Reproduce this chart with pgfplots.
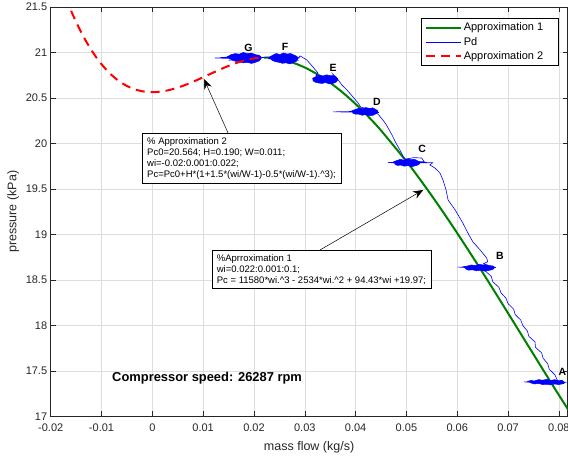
\documentclass[border=0pt]{standalone}
\usepackage{fontspec}
\setmainfont{Liberation Sans}
\usepackage{pgfplots}
\pgfplotsset{compat=1.18}
\usetikzlibrary{arrows.meta}

\definecolor{mgreen}{rgb}{0,0.5,0}
\definecolor{axgray}{gray}{0.15}
\definecolor{gridgray}{gray}{0.87}

\begin{document}
\begin{tikzpicture}
\begin{axis}[
  scale only axis,
  width=516.8pt, height=409.5pt,
  xmin=-0.02, xmax=0.0817, ymin=17, ymax=21.5,
  scaled x ticks=false, scaled y ticks=false,
  xtick={-0.02,-0.01,0,0.01,0.02,0.03,0.04,0.05,0.06,0.07,0.08},
  xticklabels={-0.02,-0.01,0,0.01,0.02,0.03,0.04,0.05,0.06,0.07,0.08},
  ytick={17,17.5,18,18.5,19,19.5,20,20.5,21,21.5},
  yticklabels={17,17.5,18,18.5,19,19.5,20,20.5,21,21.5},
  grid=major,
  major grid style={gridgray, line width=0.5pt},
  axis line style={axgray, line width=0.5pt},
  tick style={axgray, line width=0.5pt},
  major tick length=5pt,
  ticklabel style={font=\fontsize{11}{13}\selectfont, text=axgray},
  xticklabel style={yshift=-4pt},
  xlabel={mass flow (kg/s)},
  ylabel={pressure (kPa)},
  label style={font=\fontsize{12.5}{14}\selectfont, text=axgray},
  xlabel style={yshift=-3pt},
  legend style={at={(0.9826,0.973)}, anchor=north east, draw=black,
    line width=0.5pt, font=\fontsize{11}{13}\selectfont,
    inner xsep=4pt, inner ysep=2.5pt, row sep=0.8pt},
  legend cell align=left,
  legend image code/.code={\draw[#1] (0pt,0pt) -- (35pt,0pt);},
]
\coordinate (bl) at (rel axis cs:0,0);
\coordinate (tr) at (rel axis cs:1,1);

% Approximation 1: cubic fit, wi = 0.022 ... 0.1
\addplot[mgreen, line width=2pt, smooth] coordinates {
 (0.022,20.9443) (0.0235,20.9400) (0.025,20.9279) (0.0275,20.8913)
 (0.030,20.8350) (0.0325,20.7600) (0.035,20.6674) (0.0375,20.5584)
 (0.040,20.4339) (0.0425,20.2952) (0.045,20.1432) (0.050,19.8040)
 (0.0525,19.6189) (0.055,19.4249) (0.0575,19.2232) (0.060,19.0147)
 (0.0625,18.8006) (0.065,18.5820) (0.0675,18.3599) (0.070,18.1354)
 (0.0725,17.9097) (0.075,17.6838) (0.0775,17.4588) (0.080,17.2358)
 (0.085,16.8000)};
\addlegendentry{Approximation 1\hspace*{9pt}}

% Pd: measured discharge pressure, operating points A to G
\addplot[blue, line width=0.6pt] coordinates {
 (0.0790,17.375) (0.0758,17.382) (0.0812,17.368) (0.0745,17.378) (0.0805,17.385)
 (0.0765,17.365) (0.0815,17.376) (0.0731,17.380) (0.0800,17.371) (0.0770,17.388)
 (0.0810,17.362) (0.0752,17.374) (0.0798,17.383) (0.0762,17.369) (0.0808,17.378)
 (0.0780,17.372) (0.0795,17.390) (0.0775,17.366) (0.0793,17.380)
 (0.0797,17.40) (0.0792,17.46) (0.0781,17.52) (0.0778,17.58) (0.0769,17.64)
 (0.0766,17.70) (0.0754,17.76) (0.0753,17.82) (0.0741,17.88) (0.0738,17.94)
 (0.0729,18.00) (0.0725,18.06) (0.0714,18.12) (0.0711,18.18) (0.0700,18.24)
 (0.0696,18.30) (0.0686,18.36) (0.0682,18.42) (0.0670,18.48) (0.0667,18.54)
 (0.0655,18.60)
 (0.0660,18.625) (0.0630,18.640) (0.0672,18.632) (0.0610,18.645) (0.0665,18.650)
 (0.0620,18.628) (0.0676,18.638) (0.0601,18.642) (0.0662,18.622) (0.0635,18.655)
 (0.0670,18.645) (0.0628,18.630) (0.0658,18.660) (0.0640,18.635) (0.0668,18.640)
 (0.0645,18.625) (0.0660,18.650) (0.0652,18.680) (0.0660,18.700)
 (0.0658,18.742) (0.0645,18.830) (0.0631,18.918) (0.0623,18.995) (0.0611,19.126)
 (0.0596,19.269) (0.0582,19.379) (0.0578,19.489) (0.0572,19.599) (0.0566,19.676)
 (0.0556,19.731) (0.0546,19.764)
 (0.0552,19.790) (0.0490,19.782) (0.0540,19.795) (0.0470,19.788) (0.0520,19.778)
 (0.0464,19.792) (0.0515,19.800) (0.0480,19.775) (0.0530,19.790) (0.0485,19.805)
 (0.0510,19.780) (0.0495,19.815) (0.0505,19.790) (0.0500,19.830) (0.0515,19.845)
 (0.0530,19.840) (0.0535,19.800) (0.0505,19.800) (0.0495,19.840)
 (0.0490,19.90) (0.0484,19.96) (0.0478,20.02) (0.0472,20.09) (0.0466,20.15)
 (0.0460,20.21) (0.0452,20.27) (0.0446,20.31)
 (0.0440,20.345) (0.0400,20.355) (0.0446,20.340) (0.0356,20.348) (0.0430,20.352)
 (0.0395,20.335) (0.0444,20.360) (0.0380,20.350) (0.0435,20.330) (0.0405,20.365)
 (0.0440,20.350) (0.0410,20.340) (0.0425,20.375) (0.0400,20.360) (0.0420,20.385)
 (0.0410,20.400)
 (0.0405,20.445) (0.0395,20.511) (0.0383,20.588) (0.0373,20.643) (0.0363,20.720)
 (0.0355,20.764)
 (0.0360,20.715) (0.0325,20.700) (0.0365,20.690) (0.0318,20.710) (0.0355,20.680)
 (0.0330,20.725) (0.0362,20.705) (0.0316,20.695) (0.0350,20.735) (0.0335,20.685)
 (0.0358,20.700) (0.0328,20.715) (0.0345,20.740) (0.0322,20.745)
 (0.0326,20.775) (0.0316,20.841) (0.0304,20.918) (0.0291,20.962)
 (0.0285,20.930) (0.0245,20.920) (0.0290,20.940) (0.0230,20.935) (0.0280,20.905)
 (0.0250,20.945) (0.0288,20.915) (0.0227,20.930) (0.0275,20.950) (0.0240,20.910)
 (0.0282,20.925) (0.0255,20.960) (0.0270,20.900) (0.0235,20.940) (0.0265,20.975)
 (0.0250,20.925) (0.0240,20.955)
 (0.0218,20.945) (0.0160,20.935) (0.0210,20.955) (0.0123,20.940) (0.0200,20.925)
 (0.0145,20.950) (0.0215,20.938) (0.0150,20.915) (0.0195,20.965) (0.0135,20.945)
 (0.0205,20.930) (0.0165,20.970) (0.0190,20.905) (0.0155,20.940) (0.0185,20.975)
 (0.0170,20.920) (0.0180,20.950)};
\addlegendentry{Pd}

% dense cores of the Pd clusters at each operating point
\pgfplotsset{core/.style={blue, fill=blue, line width=0.5pt, forget plot}}
\addplot[core] coordinates { % A
 (0.0737,17.384) (0.0745,17.396) (0.0752,17.390) (0.0760,17.405) (0.0768,17.399)
 (0.0776,17.408) (0.0784,17.396) (0.0792,17.405) (0.0800,17.393) (0.0806,17.399)
 (0.0810,17.381) (0.0808,17.360) (0.0800,17.351) (0.0792,17.357) (0.0784,17.348)
 (0.0776,17.354) (0.0768,17.351) (0.0760,17.363) (0.0752,17.357) (0.0745,17.369)};
\addplot[core] coordinates { % B
 (0.0612,18.643) (0.0620,18.654) (0.0628,18.665) (0.0636,18.658) (0.0643,18.673)
 (0.0650,18.665) (0.0657,18.669) (0.0664,18.658) (0.0670,18.654) (0.0674,18.639)
 (0.0670,18.616) (0.0662,18.605) (0.0654,18.597) (0.0646,18.608) (0.0638,18.601)
 (0.0630,18.612) (0.0622,18.608) (0.0616,18.624)};
\addplot[core] coordinates { % C
 (0.0474,19.796) (0.0481,19.813) (0.0488,19.826) (0.0495,19.817) (0.0502,19.830)
 (0.0509,19.822) (0.0516,19.826) (0.0522,19.809) (0.0528,19.792)
 (0.0524,19.767) (0.0517,19.754) (0.0510,19.746) (0.0503,19.759) (0.0496,19.750)
 (0.0489,19.763) (0.0482,19.759) (0.0477,19.775)};
\addplot[core] coordinates { % D
 (0.0392,20.359) (0.0399,20.373) (0.0406,20.386) (0.0413,20.382) (0.0420,20.395)
 (0.0427,20.386) (0.0434,20.391) (0.0440,20.373) (0.0444,20.355)
 (0.0441,20.328) (0.0434,20.310) (0.0427,20.305) (0.0420,20.319) (0.0413,20.310)
 (0.0406,20.323) (0.0399,20.323) (0.0394,20.337)};
\addplot[core] coordinates { % E
 (0.0315,20.715) (0.0322,20.735) (0.0329,20.750) (0.0336,20.740) (0.0343,20.755)
 (0.0350,20.745) (0.0357,20.745) (0.0362,20.730) (0.0365,20.710)
 (0.0362,20.675) (0.0355,20.660) (0.0348,20.655) (0.0341,20.670) (0.0334,20.660)
 (0.0327,20.665) (0.0320,20.675) (0.0316,20.690)};
\addplot[core] coordinates { % F
 (0.0230,20.947) (0.0237,20.971) (0.0244,20.989) (0.0251,20.977) (0.0258,20.995)
 (0.0265,20.983) (0.0272,20.989) (0.0279,20.971) (0.0284,20.959) (0.0287,20.941)
 (0.0284,20.905) (0.0277,20.887) (0.0270,20.875) (0.0263,20.887) (0.0256,20.881)
 (0.0249,20.893) (0.0242,20.899) (0.0235,20.917)};
\addplot[core] coordinates { % G
 (0.0147,20.952) (0.0155,20.976) (0.0163,20.988) (0.0171,20.982) (0.0179,21.000)
 (0.0187,20.988) (0.0195,20.994) (0.0203,20.976) (0.0210,20.970) (0.0215,20.946)
 (0.0211,20.910) (0.0203,20.892) (0.0195,20.880) (0.0187,20.892) (0.0179,20.886)
 (0.0171,20.898) (0.0163,20.904) (0.0155,20.922)};

% Approximation 2: surge-side cubic, wi = -0.02 ... 0.022
\addplot[red, line width=2pt, dash pattern=on 9pt off 6pt] coordinates {
 (-0.020,22.0772) (-0.019,21.9039) (-0.018,21.7434) (-0.017,21.5954)
 (-0.016,21.4593) (-0.015,21.3348) (-0.014,21.2215) (-0.013,21.1189)
 (-0.012,21.0265) (-0.011,20.9440) (-0.010,20.8709) (-0.009,20.8068)
 (-0.008,20.7513) (-0.007,20.7039) (-0.006,20.6642) (-0.005,20.6318)
 (-0.004,20.6063) (-0.003,20.5871) (-0.002,20.5740) (-0.001,20.5664)
 (0.000,20.5640) (0.001,20.5663) (0.002,20.5729) (0.003,20.5833)
 (0.004,20.5971) (0.005,20.6140) (0.006,20.6334) (0.007,20.6549)
 (0.008,20.6782) (0.009,20.7028) (0.010,20.7282) (0.011,20.7540)
 (0.012,20.7798) (0.013,20.8052) (0.014,20.8298) (0.015,20.8531)
 (0.016,20.8746) (0.017,20.8940) (0.018,20.9109) (0.019,20.9247)
 (0.020,20.9352) (0.021,20.9417) (0.022,20.9440)};
\addlegendentry{Approximation 2}

% operating point labels
\begin{scope}[every node/.style={font=\bfseries\fontsize{10.5}{12}\selectfont}]
\node at (axis cs:0.0189,21.05) {G};
\node at (axis cs:0.0261,21.06) {F};
\node at (axis cs:0.0356,20.83) {E};
\node at (axis cs:0.0442,20.456) {D};
\node at (axis cs:0.0531,19.94) {C};
\node at (axis cs:0.0684,18.76) {B};
\node at (axis cs:0.0807,17.49) {A};
\end{scope}

% annotation boxes with arrows
\draw[black, line width=0.5pt, -{Stealth[length=10pt, width=8pt]}]
  (axis cs:0.0149,20.115) -- (axis cs:0.01016,20.709);
\node[draw=black, line width=0.5pt, fill=white, anchor=north west, align=left,
  inner xsep=5pt, inner ysep=4pt, font=\fontsize{9.5}{11.2}\selectfont]
  at (axis cs:-0.00204,20.115)
  {\% Approximation 2\\
   Pc0=20.564; H=0.190; W=0.011;\\
   wi=-0.02:0.001:0.022;\\
   Pc=Pc0+H*(1+1.5*(wi/W-1)-0.5*(wi/W-1).\textasciicircum3);};

\draw[black, line width=0.5pt, -{Stealth[length=10pt, width=8pt]}]
  (axis cs:0.0330,18.830) -- (axis cs:0.0533,19.489);
\node[draw=black, line width=0.5pt, fill=white, anchor=north west, align=left,
  inner xsep=5pt, inner ysep=4pt, font=\fontsize{9.5}{11.2}\selectfont]
  at (axis cs:0.01167,18.830)
  {\%Aprroximation 1\\
   wi=0.022:0.001:0.1;\\
   Pc = 11580*wi.\textasciicircum3 - 2534*wi.\textasciicircum2 + 94.43*wi +19.97;};

\node[anchor=west, font=\bfseries\fontsize{12.9}{15}\selectfont]
  at (axis cs:-0.00859,17.423) {Compressor speed: 26287 rpm};
\end{axis}
\path (bl) ++(-50.7pt,-40.5pt) coordinate (p1);
\path (tr) ++(0.5pt,7pt) coordinate (p2);
\pgfresetboundingbox
\path (p1) rectangle (p2);
\end{tikzpicture}
\end{document}
